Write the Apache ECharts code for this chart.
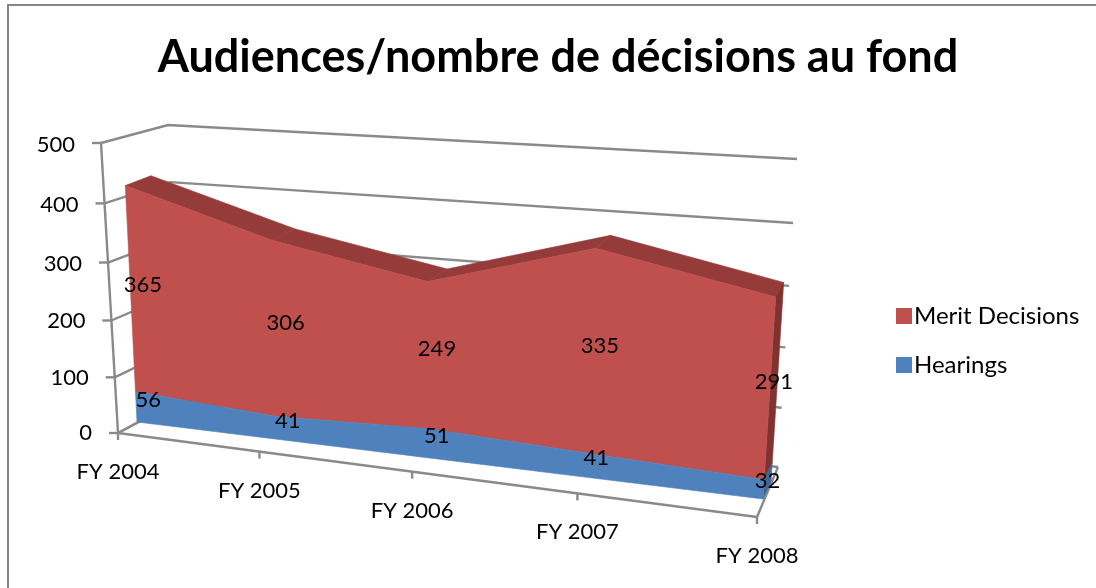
<!DOCTYPE html>
<html>
<head>
<meta charset="utf-8">
<style>
  html, body { margin: 0; padding: 0; background: #fff; }
  #chart { width: 1096px; height: 588px; }
</style>
<script src="https://cdn.jsdelivr.net/npm/echarts@6/dist/echarts.min.js"></script>
</head>
<body>
<div id="chart"></div>
<script>
const categories = ['FY 2004', 'FY 2005', 'FY 2006', 'FY 2007', 'FY 2008'];
const hearings = [56, 41, 51, 41, 32];
const meritDecisions = [365, 306, 249, 335, 291];
const yTicks = [0, 100, 200, 300, 400, 500];

const FONT = 'Lato';
const GREY = '#8a8a8a';

// builds a unit square -> quad mapping, corners are BL, BR, TR, TL
const makeQuad = (q, skew = 1) => {
  const [[x0, y0], [x1, y1], [x2, y2], [x3, y3]] = q;
  const dx1 = x1 - x2, dx2 = x3 - x2, sx = x0 - x1 + x2 - x3;
  const dy1 = y1 - y2, dy2 = y3 - y2, sy = y0 - y1 + y2 - y3;
  const den = dx1 * dy2 - dx2 * dy1;
  const g = (sx * dy2 - dx2 * sy) / den;
  const h = (dx1 * sy - sx * dy1) / den;
  const a = x1 - x0 + g * x1, b = x3 - x0 + h * x3;
  const d = y1 - y0 + g * y1, e = y3 - y0 + h * y3;
  return (t, v) => {
    const u = t / (t + skew * (1 - t));
    const w = g * u + h * v + 1;
    return [(a * u + b * v + x0) / w, (d * u + e * v + y0) / w];
  };
};

// the 3D box of the original chart, flattened to planes
const axisPlane = makeQuad([[118, 433], [757, 517], [776, 179], [101, 143]]);
const wallPlane = makeQuad([[178, 401], [778, 467], [797, 159], [168, 125]]);
const frontFace = makeQuad([[137, 422], [763, 499], [783, 180], [123, 139]], 1.02);
const backFace = makeQuad([[161, 408], [771, 482], [791, 167], [149, 130]]);

const midFace = (u, v) => {
  const a = frontFace(u, v), b = backFace(u, v);
  return [(a[0] + b[0]) / 2, (a[1] + b[1]) / 2];
};

// data value -> unit coords, through the hidden cartesian axes
const toUnit = (params, api, i, value) => {
  const p = api.coord([i, value]);
  const cs = params.coordSys;
  return [(p[0] - cs.x) / cs.width, 1 - (p[1] - cs.y) / cs.height];
};

const poly = (points, fill, z2) => ({
  type: 'polygon',
  z2,
  shape: { points },
  style: { fill, stroke: fill, lineWidth: 0.6 }
});

const line = (points) => ({
  type: 'polyline',
  shape: { points },
  style: { fill: null, stroke: GREY, lineWidth: 2.4 }
});

const label = (text, pos, size, align) => ({
  type: 'text',
  z2: 10,
  style: {
    text, x: pos[0], y: pos[1],
    fill: '#000', font: `${size}px ${FONT}`,
    align: align || 'center', verticalAlign: 'middle'
  }
});

// a stacked band: the whole front face is drawn once, top and side per point
const bandItem = (lower, upper, topColor, sideColor, faceColor) => (params, api) => {
  const i = api.value(0);
  const last = categories.length - 1;
  const [uA, vLow] = toUnit(params, api, i, lower[i]);
  const [, vHigh] = toUnit(params, api, i, lower[i] + upper[i]);
  const children = [];
  if (i === 0) {
    const bottom = [], top = [];
    categories.forEach((c, k) => {
      const [u, vl] = toUnit(params, api, k, lower[k]);
      const [, vh] = toUnit(params, api, k, lower[k] + upper[k]);
      bottom.push(frontFace(u, vl));
      top.unshift(frontFace(u, vh));
    });
    children.push(poly(bottom.concat(top), faceColor, 2));
  }
  if (i < last && topColor) {
    const [uB] = toUnit(params, api, i + 1, 0);
    const [, vHighB] = toUnit(params, api, i + 1, lower[i + 1] + upper[i + 1]);
    children.push(poly([backFace(uA, vHigh), backFace(uB, vHighB), frontFace(uB, vHighB), frontFace(uA, vHigh)], topColor, 1));
  }
  if (i === last) {
    children.push(poly([frontFace(uA, vLow), backFace(uA, vLow), backFace(uA, vHigh), frontFace(uA, vHigh)], sideColor, 1));
  }
  children.push(label(String(upper[i]), midFace(uA, (vLow + vHigh) / 2), 22));
  return { type: 'group', children };
};

const renderWalls = (params, api) => {
  const tick = api.value(1);
  const [, v] = toUnit(params, api, 0, tick);
  const front = axisPlane(0, v);
  return {
    type: 'group',
    children: [
      line([front, wallPlane(0, v), wallPlane(1, v)]),
      line([front, [front[0] - 9, front[1]]]),
      label(String(tick), [front[0] - 26, front[1] + 2 * v], 22, 'right')
    ]
  };
};

const renderCategoryAxis = (params, api) => {
  const i = api.value(0);
  const [u] = toUnit(params, api, i, 0);
  const p = axisPlane(u, 0);
  const children = [
    line([p, [p[0], p[1] + 7]]),
    label(categories[i], [p[0], p[1] + 39], 22)
  ];
  if (i === 0) {
    children.push(line([axisPlane(0, 0), axisPlane(1, 0)]));
    children.push(line([axisPlane(0, 0), axisPlane(0, 1)]));
    children.push(line([axisPlane(0, 0), wallPlane(0, 0)]));
    children.push(line([axisPlane(1, 0), wallPlane(1, 0)]));
  }
  return { type: 'group', children };
};

const pointRows = categories.map((c, i) => [i]);

const chart = echarts.init(document.getElementById('chart'));
chart.setOption({
  animation: false,
  backgroundColor: '#fff',
  title: {
    text: 'Audiences/nombre de décisions au fond',
    left: 553,
    top: 30,
    textAlign: 'center',
    textStyle: { fontFamily: FONT, fontSize: 45, fontWeight: 'bold', color: '#000' }
  },
  legend: {
    orient: 'vertical',
    left: 891,
    top: 299,
    itemWidth: 16,
    itemHeight: 16,
    itemGap: 25,
    icon: 'rect',
    selectedMode: false,
    data: ['Merit Decisions', 'Hearings'],
    textStyle: { fontFamily: FONT, fontSize: 24, color: '#000', padding: [0, 0, 0, -3] }
  },
  grid: { left: 0, right: 0, top: 0, bottom: 0 },
  xAxis: { type: 'category', data: categories, boundaryGap: false, show: false },
  yAxis: { type: 'value', min: 0, max: 500, interval: 100, show: false },
  graphic: [{
    type: 'rect',
    shape: { x: 8, y: 5, width: 1110, height: 600 },
    style: { fill: null, stroke: '#868686', lineWidth: 2 },
    silent: true
  }],
  series: [
    {
      type: 'custom',
      name: 'walls',
      z: 1,
      silent: true,
      data: yTicks.map((t) => [0, t]),
      renderItem: renderWalls
    },
    {
      type: 'custom',
      name: 'axis',
      z: 1,
      silent: true,
      data: pointRows,
      renderItem: renderCategoryAxis
    },
    {
      type: 'custom',
      name: 'Merit Decisions',
      z: 3,
      silent: true,
      itemStyle: { color: '#C0504D' },
      data: pointRows,
      renderItem: bandItem(hearings, meritDecisions, '#953B39', '#7F3331', '#C0504D')
    },
    {
      type: 'custom',
      name: 'Hearings',
      z: 4,
      silent: true,
      itemStyle: { color: '#4F81BD' },
      data: pointRows,
      renderItem: bandItem(hearings.map(() => 0), hearings, null, '#3F6797', '#4F81BD')
    }
  ]
});
</script>
</body>
</html>
